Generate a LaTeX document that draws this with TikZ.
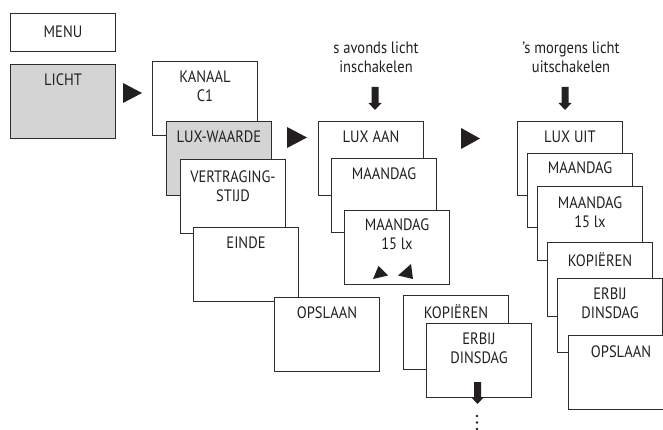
\documentclass[tikz,border=0pt]{standalone}
\usepackage{fontspec}
\setmainfont{PT Sans}[FakeStretch=0.88]
\definecolor{linecol}{RGB}{45,45,45}
\definecolor{txtcol}{RGB}{35,31,32}
\definecolor{boxgray}{RGB}{212,212,212}
\tikzset{
  box/.style={draw=linecol, line width=1pt, fill=white, minimum width=105pt,
    minimum height=74pt, inner sep=0pt, anchor=north west},
  graybox/.style={box, fill=boxgray},
  txt/.style={text=txtcol, font=\fontsize{16.5}{19}\selectfont, align=center,
    inner sep=0pt, anchor=north},
  plain/.style={text=txtcol, font=\fontsize{16.5}{19}\selectfont, align=center, inner sep=0pt},
  tri/.style={fill=txtcol, draw=none},
}
\newcommand{\boxtext}[2]{\node[txt] (#1-t) at ([yshift=-10pt]#1.north) {#2};}
\newcommand{\mydownarrow}[3]{% x, top y, shaft bottom y
  \fill[txtcol] (#1-3.5,#2) -- (#1+3.5,#2) -- (#1+3.5,#3) -- (#1+6.5,#3)
    -- (#1,#3+7) -- (#1-6.5,#3) -- (#1-3.5,#3) -- cycle;}
\begin{document}
\begin{tikzpicture}[x=1pt,y=-1pt]
\useasboundingbox (0,0) rectangle (663,430);
\fill[white] (0,0) rectangle (663,430);

% left column
\node[box, minimum height=38pt] (menu) at (10,13) {};
\node[plain] (menu-t) at ([yshift=1pt]menu.center) {MENU};
\node[graybox] (licht) at (10,64) {};
\boxtext{licht}{LICHT}

\node[box] (kanaal) at (152,61) {};
\boxtext{kanaal}{KANAAL\\C1}
\node[graybox] (luxw) at (166,121) {};
\boxtext{luxw}{LUX-WAARDE}
\node[box] (vertr) at (180,159) {};
\node[txt] (vertr-t) at ([yshift=-11.5pt]vertr.north) {VERTRAGING-\\STIJD};
\node[box] (einde) at (193,227) {};
\boxtext{einde}{EINDE}
\node[box] (opsl1) at (274,297) {};
\boxtext{opsl1}{OPSLAAN}

% big arrows
\fill[tri] (123,83) -- (123,103) -- (142,93) -- cycle;
\fill[tri] (287,127) -- (287,148) -- (307,137.5) -- cycle;
\fill[tri] (461,128) -- (461,149) -- (480,138.5) -- cycle;

% middle column
\node[plain] (avond) at (376,57) {s avonds licht\\inschakelen};
\mydownarrow{375}{87}{103}
\node[box] (luxaan) at (318,121) {};
\boxtext{luxaan}{LUX AAN}
\node[box] (maa1) at (331,158) {};
\boxtext{maa1}{MAANDAG}
\node[box] (maa2) at (344,210) {};
\node[txt] (maa2-t) at ([yshift=-9pt]maa2.north) {MAANDAG\\15 lx};
\fill[tri] (373,279) -- (378.5,266) -- (388,275.5) -- cycle;
\fill[tri] (398,275.5) -- (411,264) -- (413,279) -- cycle;

\node[box] (kop1) at (403,295) {};
\node[txt] (kop1-t) at ([yshift=-9pt]kop1.north) {KOPIËREN};
\node[box] (erb1) at (426,323) {};
\boxtext{erb1}{ERBIJ\\DINSDAG}
\mydownarrow{477.5}{382}{397}
\fill[txtcol] (477,416) circle (1.3) (477,422.5) circle (1.3) (477,429) circle (1.3);

% right column
\node[plain] (morgen) at (571,57) {'s morgens licht\\uitschakelen};
\mydownarrow{565}{87}{103}
\node[box] (luxuit) at (517,121) {};
\boxtext{luxuit}{LUX UIT}
\node[box] (maa3) at (527,153) {};
\node[txt] (maa3-t) at ([yshift=-9pt]maa3.north) {MAANDAG};
\node[box] (maa4) at (537,186) {};
\node[txt] (maa4-t) at ([yshift=-11pt]maa4.north) {MAANDAG\\15 lx};
\node[box] (kop2) at (547,242) {};
\boxtext{kop2}{KOPIËREN}
\node[box] (erb2) at (557,278) {};
\boxtext{erb2}{ERBIJ\\DINSDAG}
\node[box] (opsl2) at (568,335) {};
\node[txt] (opsl2-t) at ([yshift=-11pt]opsl2.north) {OPSLAAN};
\end{tikzpicture}
\end{document}
